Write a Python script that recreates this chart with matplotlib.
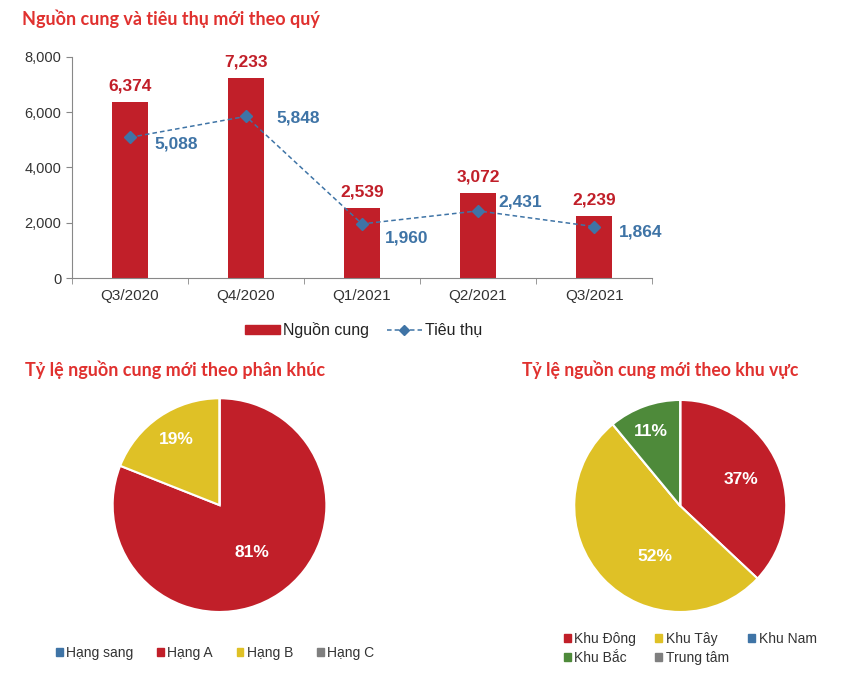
import numpy as np
import matplotlib
matplotlib.use("Agg")
import matplotlib.pyplot as plt
from matplotlib.patches import Patch
from matplotlib.lines import Line2D
from matplotlib.ticker import FuncFormatter

# Data
quarters = ["Q3/2020", "Q4/2020", "Q1/2021", "Q2/2021", "Q3/2021"]
supply = [6374, 7233, 2539, 3072, 2239]
absorption = [5088, 5848, 1960, 2431, 1864]

segment_names = ["Hạng sang", "Hạng A", "Hạng B", "Hạng C"]
segment_pct = [0, 81, 19, 0]

region_names = ["Khu Đông", "Khu Tây", "Khu Nam", "Khu Bắc", "Trung tâm"]
region_pct = [37, 52, 0, 11, 0]

# Colours
RED = "#c11f29"
YELLOW = "#dfc126"
GREEN = "#4e8a3a"
BLUE = "#3f74a6"
GREY = "#7f7f7f"
TITLE_RED = "#e0312f"

segment_colors = [BLUE, RED, YELLOW, GREY]
region_colors = [RED, YELLOW, BLUE, GREEN, GREY]

body_font = ["Liberation Sans", "DejaVu Sans"]
title_font = ["Lato", "DejaVu Sans"]
plt.rcParams["font.family"] = body_font

fig = plt.figure(figsize=(8.66, 6.85), dpi=100)

# Titles
fig.text(0.025, 0.973, "Nguồn cung và tiêu thụ mới theo quý", color=TITLE_RED,
         fontsize=13, fontweight="bold", family=title_font, va="center")
fig.text(0.029, 0.460, "Tỷ lệ nguồn cung mới theo phân khúc", color=TITLE_RED,
         fontsize=13, fontweight="bold", family=title_font, va="center")
fig.text(0.603, 0.460, "Tỷ lệ nguồn cung mới theo khu vực", color=TITLE_RED,
         fontsize=12.7, fontweight="bold", family=title_font, va="center")

# Bar + line chart
ax = fig.add_axes([0.083, 0.594, 0.67, 0.323])
x = np.arange(len(quarters))
ax.bar(x, supply, width=0.31, color=RED, zorder=2)
ax.plot(x, absorption, color=BLUE, linestyle=(0, (3, 2)), linewidth=1.1,
        marker="D", markersize=6, zorder=3)

for xi, v in zip(x, supply):
    ax.annotate(f"{v:,}", (xi, v), xytext=(0, 6), textcoords="offset points",
                ha="center", va="bottom", color=RED, fontsize=12.5, fontweight="bold")

# label offsets (points) for the blue labels, as placed in the original
blue_offsets = [(18, -5), (22, -1.5), (16.5, -10), (14.5, 6.5), (18, -3.6)]
for xi, v, off in zip(x, absorption, blue_offsets):
    ax.annotate(f"{v:,}", (xi, v), xytext=off, textcoords="offset points",
                ha="left", va="center", color=BLUE, fontsize=12.5, fontweight="bold")

ax.set_xlim(-0.5, len(quarters) - 0.5)
ax.set_ylim(0, 8000)
ax.set_yticks(range(0, 8001, 2000))
ax.yaxis.set_major_formatter(FuncFormatter(lambda v, p: f"{int(v):,}"))
ax.set_xticks(x)
ax.set_xticklabels(quarters)
ax.set_xticks(np.arange(-0.5, len(quarters)), minor=True)
ax.tick_params(axis="x", which="major", length=0, labelsize=11, pad=8, colors="#333333")
ax.tick_params(axis="x", which="minor", length=4, color="#888888")
ax.tick_params(axis="y", length=4, labelsize=10.5, color="#888888", colors="#333333")
for s in ["top", "right"]:
    ax.spines[s].set_visible(False)
for s in ["left", "bottom"]:
    ax.spines[s].set_color("#888888")

handles = [Patch(color=RED, label="Nguồn cung"),
           Line2D([0], [0], color=BLUE, linestyle=(0, (3, 2)), linewidth=1.1,
                  marker="D", markersize=5, label="Tiêu thụ")]
ax.legend(handles=handles, loc="center", bbox_to_anchor=(0.503, -0.235), ncol=2,
          frameon=False, fontsize=11.5, handlelength=2.2, handleheight=0.44,
          columnspacing=1.1, handletextpad=0.2, labelcolor="#222222")


def draw_pie(rect, names, values, colors, label_xy, legend_ncol, legend_anchor,
             order, colspace):
    pax = fig.add_axes(rect)
    pax.pie(values, colors=colors, startangle=90, counterclock=False,
            wedgeprops=dict(edgecolor="white", linewidth=1.5))
    pax.set_xlim(-1, 1)
    pax.set_ylim(-1, 1)
    pax.set_aspect("equal")
    k = 0
    for v in values:
        if v > 0:
            pax.text(label_xy[k][0], label_xy[k][1], f"{v}%", color="white",
                     fontsize=12.5, fontweight="bold", ha="center", va="center")
            k += 1
    h = [Patch(color=colors[i], label=names[i]) for i in order]
    pax.legend(handles=h, loc="center", bbox_to_anchor=legend_anchor, ncol=legend_ncol,
               frameon=False, fontsize=10, handlelength=0.5, handleheight=0.5,
               handletextpad=0.25, columnspacing=colspace, labelspacing=0.35,
               labelcolor="#333333", borderpad=0)
    return pax


draw_pie([0.130, 0.1066, 0.247, 0.312], segment_names, segment_pct, segment_colors,
         [(0.30, -0.44), (-0.40, 0.61)], 4, (0.479, -0.19), [0, 1, 2, 3], 1.7)
draw_pie([0.663, 0.1066, 0.245, 0.3095], region_names, region_pct, region_colors,
         [(0.57, 0.25), (-0.24, -0.48), (-0.28, 0.70)], 3, (0.547, -0.172),
         [0, 3, 1, 4, 2], 1.4)

fig.savefig("out.png", dpi=100)
